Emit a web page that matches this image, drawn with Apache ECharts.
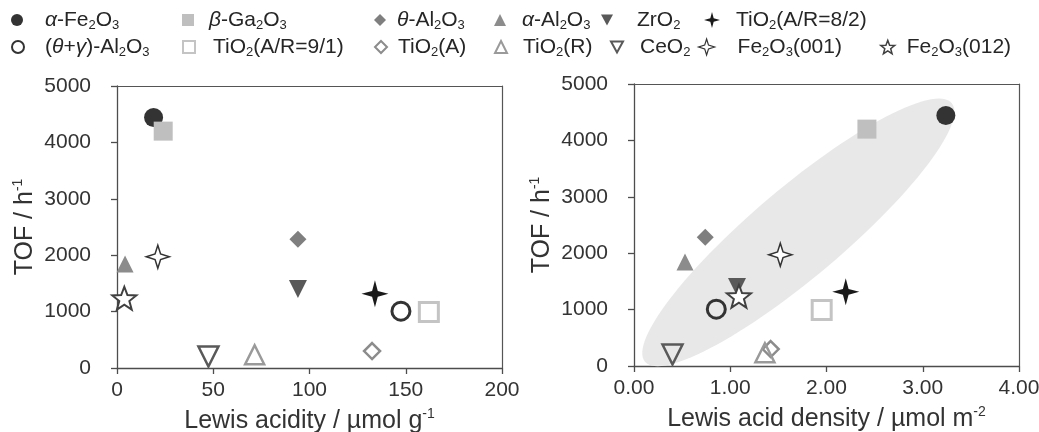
<!DOCTYPE html>
<html>
<head>
<meta charset="utf-8">
<script src="https://cdn.jsdelivr.net/npm/echarts@6/dist/echarts.min.js"></script>
<style>
html,body{margin:0;padding:0;background:#fff;}
#chart{width:1039px;height:432px;}
</style>
</head>
<body>
<div id="chart"></div>
<script>
// ---- data ----
const categories = ['α-Fe2O3', '(θ+γ)-Al2O3', 'β-Ga2O3', 'TiO2(A/R=9/1)', 'θ-Al2O3', 'TiO2(A)', 'α-Al2O3', 'TiO2(R)', 'ZrO2', 'CeO2', 'TiO2(A/R=8/2)', 'Fe2O3(001)', 'Fe2O3(012)'];
const legendLabels = [
  '{i|α}-Fe{s|2}O{s|3}', '({i|θ}+{i|γ})-Al{s|2}O{s|3}', '{i|β}-Ga{s|2}O{s|3}', 'TiO{s|2}(A/R=9/1)',
  '{i|θ}-Al{s|2}O{s|3}', 'TiO{s|2}(A)', '{i|α}-Al{s|2}O{s|3}', 'TiO{s|2}(R)', 'ZrO{s|2}', 'CeO{s|2}',
  'TiO{s|2}(A/R=8/2)', 'Fe{s|2}O{s|3}(001)', 'Fe{s|2}O{s|3}(012)'
];
const lewisAcidity = [19.0, 147.5, 24.0, 162, 94, 132.5, 4.2, 71.5, 94, 47.5, 134, 21.2, 3.8];     // µmol g-1
const lewisDensity = [3.24, 0.855, 2.42, 1.95, 0.74, 1.42, 0.53, 1.36, 1.07, 0.40, 2.20, 1.52, 1.09]; // µmol m-2
const tof = [4440, 1008, 4200, 995, 2282, 300, 1845, 235, 1400, 205, 1315, 1972, 1238];          // h-1
const yTicks = [0, 1000, 2000, 3000, 4000, 5000];
const xTicksLeft = [0, 50, 100, 150, 200];
const xTicksRight = [0, 1, 2, 3, 4];
// highlighted ellipse (major-axis end points in data units, minor/major ratio)
const ellipseEnds = [[0.114, 76], [3.30, 4663]];
const ellipseRatio = 0.224;

// ---- styling ----
const FONT = '"Liberation Sans", Arial, sans-serif';
const TXT = '#262626';
const STAR4 = 'path://M0,-10 L2.1,-2.1 L10,0 L2.1,2.1 L0,10 L-2.1,2.1 L-10,0 L-2.1,-2.1 Z';
const STAR4O = 'path://M0,-10 L2.4,-2.4 L10,0 L2.4,2.4 L0,10 L-2.4,2.4 L-10,0 L-2.4,-2.4 Z';
const STAR5 = 'path://M0,-10 L2.47,-3.4 L9.51,-3.09 L3.99,1.3 L5.88,8.09 L0,4.2 L-5.88,8.09 L-3.99,1.3 L-9.51,-3.09 L-2.47,-3.4 Z';
const DTRI = 'path://M0,0 L10,0 L5,9 Z';
const styles = [
  {symbol: 'circle', size: 19, color: '#333333'},
  {symbol: 'circle', size: 18, color: 'rgba(255,255,255,0)', border: '#333333', bw: 3},
  {symbol: 'rect', size: 19, color: '#bfbfbf'},
  {symbol: 'rect', size: 19, color: 'rgba(255,255,255,0)', border: '#c4c4c4', bw: 3},
  {symbol: 'diamond', size: 17, color: '#7f7f7f'},
  {symbol: 'diamond', size: 16, color: 'rgba(255,255,255,0)', border: '#8c8c8c', bw: 2.5},
  {symbol: 'triangle', size: 17, color: '#8c8c8c'},
  {symbol: 'triangle', size: 19, color: 'rgba(255,255,255,0)', border: '#9a9a9a', bw: 2.5},
  {symbol: DTRI, size: 18, color: '#595959'},
  {symbol: DTRI, size: 20, color: 'rgba(255,255,255,0)', border: '#595959', bw: 2.5},
  {symbol: STAR4, size: 27, color: '#1a1a1a'},
  {symbol: STAR4O, size: 23, color: '#ffffff', border: '#333333', bw: 1.5},
  {symbol: STAR5, size: 24, color: '#ffffff', border: '#404040', bw: 2, keep: true}
];
// legend layout: [left, top, textGap, iconSize, borderWidth]
const legendPos = [
  [11, 8, 17, 12], [11, 35, 16, 12, 2],
  [182, 8, 10, 12], [182, 35, 13, 12, 2],
  [374, 8, 6, 12], [374, 35, 6, 12, 2],
  [494, 8, 11, 12], [494, 35, 11, 12, 2],
  [601, 8, 19, 12], [610, 35, 12, 12, 2],
  [704, 8, 11, 16], [698, 35, 18, 16, 1.2],
  [880, 35, 7, 14, 1.5]
];

const legends = categories.map((name, k) => {
  const p = legendPos[k];
  const lg = {
    data: [name],
    left: p[0], top: p[1],
    orient: 'horizontal',
    padding: 0,
    itemWidth: p[3], itemHeight: p[3],
    selectedMode: false,
    formatter: () => legendLabels[k],
    textStyle: {
      fontSize: 21, fontFamily: FONT, color: TXT, lineHeight: 24, padding: [0, 0, 0, p[2]],
      rich: {
        s: {fontSize: 13, lineHeight: 13, verticalAlign: 'bottom', fontFamily: FONT, color: TXT},
        i: {fontSize: 21, fontStyle: 'italic', fontFamily: FONT, color: TXT}
      }
    }
  };
  if (p[4] !== undefined) lg.itemStyle = {borderWidth: p[4]};
  return lg;
});

const axisLine = {show: true, lineStyle: {color: '#4d4d4d', width: 1.3}};
const axisTick = {show: true, inside: false, length: 6, lineStyle: {color: '#4d4d4d', width: 1.3}};
const labelStyle = {fontSize: 21, fontFamily: FONT, color: '#333333'};
const nameStyle = {
  fontSize: 25, fontFamily: FONT, color: '#333333', lineHeight: 28,
  rich: {sup: {fontSize: 14, lineHeight: 14, verticalAlign: 'top', fontFamily: FONT, color: '#333333'}}
};

function xAxis(grid, ticks, name, fmt) {
  return {
    type: 'value', gridIndex: grid, min: ticks[0], max: ticks[ticks.length - 1], interval: ticks[1] - ticks[0],
    axisLine: axisLine, axisTick: axisTick, splitLine: {show: false},
    axisLabel: Object.assign({margin: 12, formatter: fmt}, labelStyle),
    name: name, nameLocation: 'middle', nameGap: 39, nameTextStyle: nameStyle
  };
}
function yAxis(grid) {
  return {
    type: 'value', gridIndex: grid, min: yTicks[0], max: yTicks[yTicks.length - 1], interval: yTicks[1] - yTicks[0],
    axisLine: axisLine, axisTick: axisTick, splitLine: {show: false},
    axisLabel: Object.assign({margin: 26, formatter: v => String(v)}, labelStyle),
    name: 'TOF / h{sup|-1}', nameLocation: 'middle', nameGap: 78, nameRotate: 90, nameTextStyle: nameStyle
  };
}
// frame (top / right edges of each plot box)
function frameX(grid, ticks) {
  return {type: 'value', gridIndex: grid, position: 'top', min: ticks[0], max: ticks[ticks.length - 1],
    axisLine: {show: true, onZero: false, lineStyle: {color: '#555555', width: 1.2}},
    axisTick: {show: false}, axisLabel: {show: false}, splitLine: {show: false}};
}
function frameY(grid) {
  return {type: 'value', gridIndex: grid, position: 'right', min: yTicks[0], max: yTicks[yTicks.length - 1],
    axisLine: {show: true, onZero: false, lineStyle: {color: '#555555', width: 1.2}},
    axisTick: {show: false}, axisLabel: {show: false}, splitLine: {show: false}};
}

const series = [];
// grey ellipse behind the right-hand points
series.push({
  type: 'custom', xAxisIndex: 1, yAxisIndex: 1, silent: true, z: 1, clip: false,
  data: [[ (ellipseEnds[0][0] + ellipseEnds[1][0]) / 2, (ellipseEnds[0][1] + ellipseEnds[1][1]) / 2 ]],
  renderItem: function (params, api) {
    const p1 = api.coord(ellipseEnds[0]);
    const p2 = api.coord(ellipseEnds[1]);
    const cx = (p1[0] + p2[0]) / 2, cy = (p1[1] + p2[1]) / 2;
    const dx = p2[0] - p1[0], dy = p2[1] - p1[1];
    const a = Math.sqrt(dx * dx + dy * dy) / 2, b = a * ellipseRatio;
    const ang = Math.atan2(dy, dx);
    const pts = [];
    for (let t = 0; t < 120; t++) {
      const th = t / 120 * Math.PI * 2;
      const ex = a * Math.cos(th), ey = b * Math.sin(th);
      pts.push([cx + ex * Math.cos(ang) - ey * Math.sin(ang), cy + ex * Math.sin(ang) + ey * Math.cos(ang)]);
    }
    return {type: 'polygon', shape: {points: pts}, style: {fill: '#e8e8e8'}};
  }
});

categories.forEach((name, k) => {
  const st = styles[k];
  [[lewisAcidity, 0], [lewisDensity, 1]].forEach(([xs, g]) => {
    series.push({
      name: name, type: 'scatter', xAxisIndex: g, yAxisIndex: g, z: 3 + k,
      symbol: st.symbol, symbolSize: st.size, symbolKeepAspect: !!st.keep,
      itemStyle: {color: st.color, borderColor: st.border || st.color, borderWidth: st.bw || 0, opacity: 1},
      emphasis: {disabled: true},
      data: [[xs[k], tof[k]]]
    });
  });
});

const chart = echarts.init(document.getElementById('chart'), null, {renderer: 'canvas'});
chart.setOption({
  animation: false,
  backgroundColor: '#ffffff',
  legend: legends,
  grid: [
    {left: 117, right: 537, top: 86, bottom: 64, outerBoundsMode: 'none', containLabel: false},
    {left: 634, right: 20, top: 84, bottom: 66, outerBoundsMode: 'none', containLabel: false}
  ],
  xAxis: [
    xAxis(0, xTicksLeft, 'Lewis acidity / µmol g{sup|-1}'),
    xAxis(1, xTicksRight, 'Lewis acid density / µmol m{sup|-2}', v => v.toFixed(2)),
    frameX(0, xTicksLeft), frameX(1, xTicksRight)
  ],
  yAxis: [yAxis(0), yAxis(1), frameY(0), frameY(1)],
  series: series
});
</script>
</body>
</html>
